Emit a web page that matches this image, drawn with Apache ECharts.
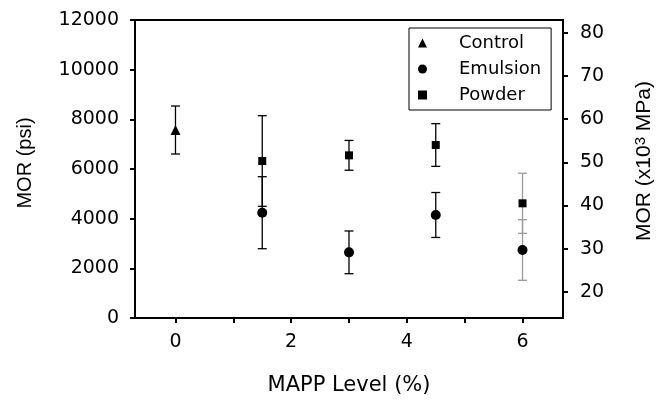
<!DOCTYPE html>
<html>
<head>
<meta charset="utf-8">
<script src="https://cdn.jsdelivr.net/npm/echarts@6/dist/echarts.min.js"></script>
<style>html,body{margin:0;padding:0;background:#fff;}#chart{width:664px;height:405px;}</style>
</head>
<body>
<div id="chart"></div>
<script>
// ---- data ----
const seriesNames = ['Control', 'Emulsion', 'Powder'];
const controlX = [0];
const controlMOR = [7570];
const controlErr = [966];
const emulsionX = [1.5, 3, 4.5, 6];
const emulsionMOR = [4240, 2644, 4148, 2738];
const emulsionErr = [1450, 860, 905, 1220];
const powderX = [1.5, 3, 4.5, 6];
const powderMOR = [6322, 6550, 6966, 4618];
const powderErr = [1825, 600, 860, 1210];
const xTickValues = [0, 1, 2, 3, 4, 5, 6];
const xLabelValues = [0, 2, 4, 6];
const rightTickValues = [20, 30, 40, 50, 60, 70, 80];

// ---- style ----
const FONT_H = 'DejaVu Sans';
const FONT_V = 'Liberation Sans';
const grayBarAt = 6;

function pts(xs, ys) { return xs.map((x, i) => [x, ys[i]]); }
function errPts(xs, ys, es) { return xs.map((x, i) => [x, ys[i], es[i]]); }

function renderErr(params, api) {
  const x = api.value(0), y = api.value(1), e = api.value(2);
  const t = api.coord([x, y + e]);
  const b = api.coord([x, y - e]);
  const c = x === grayBarAt ? '#9a9a9a' : '#000';
  const hw = 4.5;
  const st = { stroke: c, lineWidth: 1.3 };
  return {
    type: 'group',
    children: [
      { type: 'line', shape: { x1: t[0], y1: t[1], x2: b[0], y2: b[1] }, style: st },
      { type: 'line', shape: { x1: t[0] - hw, y1: t[1], x2: t[0] + hw, y2: t[1] }, style: st },
      { type: 'line', shape: { x1: b[0] - hw, y1: b[1], x2: b[0] + hw, y2: b[1] }, style: st }
    ]
  };
}

const axisLine = { show: true, onZero: false, lineStyle: { color: '#000', width: 2 } };
const axisTick = { show: true, inside: false, length: 5, lineStyle: { color: '#000', width: 2 } };
const plain = v => String(v);
const markStyle = { color: '#000', opacity: 1 };

const chart = echarts.init(document.getElementById('chart'), null, { renderer: 'canvas' });
chart.setOption({
  animation: false,
  backgroundColor: '#fff',
  grid: { left: 135, right: 101, top: 20, bottom: 87, show: true, borderColor: '#000', borderWidth: 2 },
  legend: {
    orient: 'vertical', left: 409, top: 28,
    padding: [5, 10, 5, 9], itemGap: 6, itemWidth: 9, itemHeight: 9,
    borderColor: '#000', borderWidth: 1,
    itemStyle: { opacity: 1 },
    textStyle: { fontFamily: FONT_H, fontSize: 18, color: '#000', lineHeight: 20, padding: [0, 0, 0, 27] },
    data: seriesNames
  },
  xAxis: {
    type: 'value', min: -0.7, max: 6.7,
    axisLine: axisLine,
    axisTick: Object.assign({}, axisTick, { customValues: xTickValues }),
    axisLabel: { customValues: xLabelValues, formatter: plain, fontFamily: FONT_H, fontSize: 19, color: '#000', margin: 15 },
    splitLine: { show: false },
    name: 'MAPP Level (%)', nameLocation: 'middle', nameGap: 57,
    nameTextStyle: { fontFamily: FONT_H, fontSize: 21, color: '#000' }
  },
  yAxis: [
    {
      type: 'value', min: 0, max: 12000, interval: 2000, position: 'left',
      axisLine: axisLine, axisTick: axisTick,
      axisLabel: { formatter: plain, fontFamily: FONT_H, fontSize: 19, color: '#000', margin: 16 },
      splitLine: { show: false },
      name: 'MOR (psi)', nameLocation: 'middle', nameRotate: 90, nameGap: 100,
      nameTextStyle: { fontFamily: FONT_V, fontSize: 20, color: '#000', padding: [0, 0, 0, 12] }
    },
    {
      type: 'value', min: 13.95, max: 82.93, position: 'right',
      axisLine: axisLine,
      axisTick: Object.assign({}, axisTick, { customValues: rightTickValues }),
      axisLabel: { customValues: rightTickValues, formatter: plain, fontFamily: FONT_H, fontSize: 19, color: '#000', margin: 17 },
      splitLine: { show: false },
      name: 'MOR (x10{sup|3} MPa)', nameLocation: 'middle', nameRotate: 90, nameGap: 70,
      nameTextStyle: {
        fontFamily: FONT_V, fontSize: 21, color: '#000', padding: [0, 0, 0, 16],
        rich: { sup: { fontFamily: FONT_V, fontSize: 15, verticalAlign: 'top', padding: [0, 0, 8, 0] } }
      }
    }
  ],
  series: [
    { type: 'custom', name: 'errC', renderItem: renderErr, data: errPts(controlX, controlMOR, controlErr), encode: { x: 0, y: 1 }, z: 1, silent: true },
    { type: 'custom', name: 'errE', renderItem: renderErr, data: errPts(emulsionX, emulsionMOR, emulsionErr), encode: { x: 0, y: 1 }, z: 1, silent: true },
    { type: 'custom', name: 'errP', renderItem: renderErr, data: errPts(powderX, powderMOR, powderErr), encode: { x: 0, y: 1 }, z: 1, silent: true },
    { type: 'scatter', name: 'Control', symbol: 'triangle', symbolSize: 10, itemStyle: markStyle, data: pts(controlX, controlMOR), z: 5 },
    { type: 'scatter', name: 'Emulsion', symbol: 'circle', symbolSize: 10, itemStyle: markStyle, data: pts(emulsionX, emulsionMOR), z: 5 },
    { type: 'scatter', name: 'Powder', symbol: 'rect', symbolSize: 8, itemStyle: markStyle, data: pts(powderX, powderMOR), z: 5 }
  ]
});
</script>
</body>
</html>
